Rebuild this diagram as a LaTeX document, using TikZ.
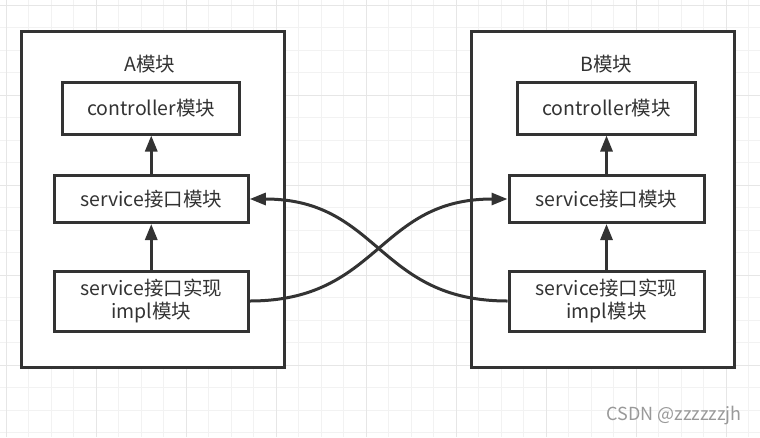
\documentclass[tikz,border=0pt]{standalone}
\usepackage{fontspec}
\setmainfont{Noto Sans CJK SC}
\usetikzlibrary{arrows.meta}
\definecolor{ln}{HTML}{333333}
\definecolor{gmin}{HTML}{F2F2F2}
\definecolor{gmaj}{HTML}{E6E6E6}
\definecolor{wmark}{HTML}{999999}
\begin{document}
\begin{tikzpicture}[x=1pt,y=-1pt,
  outerbox/.style={draw=ln, line width=3pt, fill=white, inner sep=0pt, minimum width=263pt, minimum height=336pt},
  box/.style={draw=ln, line width=3pt, fill=white, inner sep=0pt, text=ln, align=center, font=\fontsize{19.5}{23}\selectfont},
  lbl/.style={text=ln, inner sep=0pt, font=\fontsize{19.5}{23}\selectfont},
  arr/.style={draw=ln, line width=3pt, -{Triangle[length=16pt,width=12pt]}},
  gridmin/.style={draw=gmin, line width=1pt},
  gridmaj/.style={draw=gmaj, line width=1pt}]
\useasboundingbox (0,0) rectangle (760,437);
\fill[white] (0,0) rectangle (760,437);
% grid
\foreach \i in {0,...,33} {\pgfmathsetmacro\gx{6+22.5*\i}\draw[gridmin] (\gx,0) -- (\gx,437);}
\foreach \i in {0,...,19} {\pgfmathsetmacro\gy{5+22.5*\i}\draw[gridmin] (0,\gy) -- (760,\gy);}
\foreach \i in {0,...,8} {\pgfmathsetmacro\gx{6+90*\i}\draw[gridmaj] (\gx,0) -- (\gx,437);}
\foreach \i in {0,...,4} {\pgfmathsetmacro\gy{5+90*\i}\draw[gridmaj] (0,\gy) -- (760,\gy);}
% outer boxes
\node[outerbox] (A) at (152.5,199) {};
\node[outerbox] (B) at (602.5,199) {};
\node[lbl] (Alab) at (150,64) {A模块};
\node[lbl] (Blab) at (606.5,64) {B模块};
% inner boxes A
\node[box, minimum width=177pt, minimum height=52pt] (Actrl) at (151.25,108) {controller模块};
\node[box, minimum width=194pt, minimum height=47pt] (Asvc) at (151.25,199) {service接口模块};
\node[box, minimum width=194pt, minimum height=60pt] (Aimpl) at (151.25,301) {service接口实现\\impl模块};
% inner boxes B
\node[box, minimum width=178pt, minimum height=52pt] (Bctrl) at (606.5,108) {controller模块};
\node[box, minimum width=195pt, minimum height=47pt] (Bsvc) at (606.5,199) {service接口模块};
\node[box, minimum width=195pt, minimum height=60pt] (Bimpl) at (606.5,301) {service接口实现\\impl模块};
% arrows
\draw[arr] (Asvc) -- (Actrl);
\draw[arr] (Aimpl) -- (Asvc);
\draw[arr] (Bsvc) -- (Bctrl);
\draw[arr] (Bimpl) -- (Bsvc);
\draw[arr] (Aimpl.east) .. controls +(130,0) and +(-130,0) .. (Bsvc.west);
\draw[arr] (Bimpl.west) .. controls +(-130,0) and +(130,0) .. (Asvc.east);
% watermark
\node[text=wmark, inner sep=0pt, font=\fontsize{18}{18}\selectfont] (wm) at (674,416) {CSDN @zzzzzzjh};
\end{tikzpicture}
\end{document}
